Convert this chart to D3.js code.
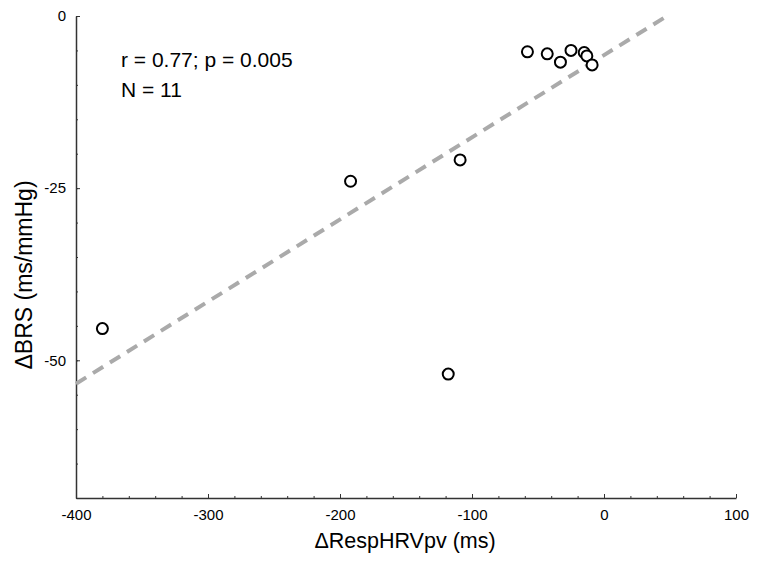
<!DOCTYPE html>
<html>
<head>
<meta charset="utf-8">
<script src="https://cdn.jsdelivr.net/npm/d3@7"></script>
<style>
  body { margin: 0; background: #fff; }
  text { font-family: Arial, "Liberation Sans", sans-serif; }
</style>
</head>
<body>
<div id="chart"></div>
<script>
// Data
const respHRV = [-380, -192, -118, -109, -58, -43, -33, -25, -15, -13, -9];
const deltaBRS = [-45.4, -24.0, -52.0, -20.9, -5.2, -5.5, -6.7, -5.0, -5.3, -5.8, -7.1];
const fitX = [-400, 47.7];
const fitY = [-53.4, 0];
const xTicks = [-400, -300, -200, -100, 0, 100];
const yTicks = [0, -25, -50];
const statText = ["r = 0.77; p = 0.005", "N = 11"];

const W = 758, H = 565;
const margin = { top: 16, right: 22, bottom: 67, left: 76 };
const width = W - margin.left - margin.right;
const height = H - margin.top - margin.bottom;

const svg = d3.select("#chart").append("svg")
    .attr("width", W)
    .attr("height", H);

const g = svg.append("g")
    .attr("transform", `translate(${margin.left},${margin.top})`);

const x = d3.scaleLinear().domain([-400, 100]).range([0, width]);
const y = d3.scaleLinear().domain([-70, 0]).range([height, 0]);

// minor ticks
g.append("g")
    .attr("transform", `translate(0,${height})`)
    .call(d3.axisTop(x).tickValues(d3.range(-400, 101, 20)).tickSize(2).tickFormat(""))
    .call(a => a.select(".domain").remove())
    .selectAll("line").attr("stroke", "#333");
g.append("g")
    .call(d3.axisRight(y).tickValues(d3.range(-70, 1, 5)).tickSize(2).tickFormat(""))
    .call(a => a.select(".domain").remove())
    .selectAll("line").attr("stroke", "#333");

// major axes
const xAxis = g.append("g")
    .attr("transform", `translate(0,${height})`)
    .call(d3.axisBottom(x).tickValues(xTicks).tickSize(0).tickPadding(11).tickSizeOuter(0)
        .tickFormat(d => d));
xAxis.select(".domain").attr("stroke", "#333").attr("stroke-width", 1.5);
xAxis.selectAll("text").style("font-size", "15px").attr("fill", "#000");
g.append("g")
    .attr("transform", `translate(0,${height})`)
    .call(d3.axisTop(x).tickValues(xTicks).tickSize(4).tickFormat(""))
    .call(a => a.select(".domain").remove())
    .selectAll("line").attr("stroke", "#333");

const yAxis = g.append("g")
    .call(d3.axisLeft(y).tickValues(yTicks).tickSize(0).tickPadding(10).tickSizeOuter(0)
        .tickFormat(d => d));
yAxis.select(".domain").attr("stroke", "#333").attr("stroke-width", 1.5);
yAxis.selectAll("text").style("font-size", "15px").attr("fill", "#000");
g.append("g")
    .call(d3.axisRight(y).tickValues(yTicks).tickSize(4).tickFormat(""))
    .call(a => a.select(".domain").remove())
    .selectAll("line").attr("stroke", "#333");

// regression line
const line = d3.line().x(d => x(d[0])).y(d => y(d[1]));
g.append("path")
    .datum(d3.zip(fitX, fitY))
    .attr("d", line)
    .attr("fill", "none")
    .attr("stroke", "#aaaaaa")
    .attr("stroke-width", 4)
    .attr("stroke-dasharray", "12,8");

// points
g.selectAll(".pt")
    .data(d3.zip(respHRV, deltaBRS))
    .enter().append("circle")
    .attr("class", "pt")
    .attr("cx", d => x(d[0]))
    .attr("cy", d => y(d[1]))
    .attr("r", 5.5)
    .attr("fill", "#fff")
    .attr("stroke", "#000")
    .attr("stroke-width", 2);

// annotation
g.selectAll(".stat")
    .data(statText)
    .enter().append("text")
    .attr("class", "stat")
    .attr("x", 45)
    .attr("y", (d, i) => 51 + i * 30)
    .style("font-size", "21px")
    .text(d => d);

// axis titles
svg.append("text")
    .attr("x", margin.left + width / 2 - 1)
    .attr("y", 548)
    .attr("text-anchor", "middle")
    .style("font-size", "21.5px")
    .text("ΔRespHRVpv (ms)");

svg.append("text")
    .attr("transform", `translate(32,275) rotate(-90)`)
    .attr("text-anchor", "middle")
    .style("font-size", "23px")
    .text("ΔBRS (ms/mmHg)");
</script>
</body>
</html>
